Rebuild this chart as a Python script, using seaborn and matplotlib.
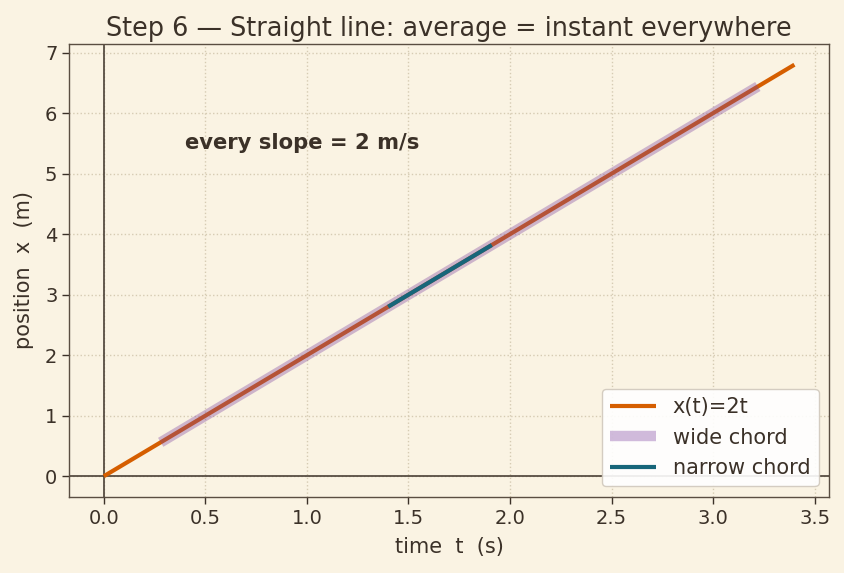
import numpy as np
import pandas as pd
import matplotlib
matplotlib.use("Agg")
import matplotlib.pyplot as plt
import seaborn as sns

# data
t_line = [0.0, 3.4]
x_line = [0.0, 6.8]
t_wide = [0.28, 3.22]
x_wide = [0.56, 6.44]
t_narrow = [1.4, 1.91]
x_narrow = [2.8, 3.82]

bg = "#FAF3E3"
ink = "#3B3128"
sns.set_theme(style="whitegrid")
plt.rcParams.update({
    "figure.facecolor": bg, "axes.facecolor": bg, "savefig.facecolor": bg,
    "axes.edgecolor": "#5A4E42", "axes.linewidth": 1.0,
    "grid.color": "#D6CBB3", "grid.linestyle": ":", "grid.linewidth": 1.0,
    "text.color": ink, "axes.labelcolor": ink,
    "xtick.color": ink, "ytick.color": ink,
    "xtick.bottom": True, "ytick.left": True,
})
plt.rcParams["font.family"] = ["DejaVu Sans"]

fig, ax = plt.subplots(figsize=(8.45, 5.73), dpi=100)

df_line = pd.DataFrame({"t": t_line, "x": x_line})
df_wide = pd.DataFrame({"t": t_wide, "x": x_wide})
df_narrow = pd.DataFrame({"t": t_narrow, "x": x_narrow})

ax.axhline(0, color="#4A4036", lw=1.2, zorder=1)
ax.axvline(0, color="#4A4036", lw=1.2, zorder=1)

sns.lineplot(data=df_line, x="t", y="x", ax=ax, color="#D55E00", lw=3, label="x(t)=2t",
             zorder=3, solid_capstyle="butt")
sns.lineplot(data=df_wide, x="t", y="x", ax=ax, color="#7B3F9E", alpha=0.35, lw=7.5, label="wide chord",
             zorder=4, solid_capstyle="butt")
sns.lineplot(data=df_narrow, x="t", y="x", ax=ax, color="#17667A", lw=3, label="narrow chord",
             zorder=5, solid_capstyle="butt")

ax.set_xlim(-0.17, 3.57)
ax.set_ylim(-0.34, 7.14)
ax.set_xticks(np.arange(0, 3.51, 0.5))
ax.set_yticks(range(0, 8))
ax.tick_params(labelsize=14, length=5, width=1, colors=ink)

ax.set_title("Step 6 — Straight line: average = instant everywhere", fontsize=18.4, color=ink, pad=6)
ax.set_xlabel("time  t  (s)", fontsize=15, labelpad=7)
ax.set_ylabel("position  x  (m)", fontsize=15, labelpad=8)

ax.text(0.4, 5.5, "every slope = 2 m/s", fontsize=15.2, fontweight="bold", color=ink, va="center", ha="left")

leg = ax.legend(loc="lower right", fontsize=15, frameon=True, facecolor="white", edgecolor="#D0C8BC",
                framealpha=0.9, handlelength=2.2)
for txt in leg.get_texts():
    txt.set_color(ink)

fig.subplots_adjust(left=0.082, right=0.981, top=0.923, bottom=0.133)
fig.savefig("out.png", dpi=100)
